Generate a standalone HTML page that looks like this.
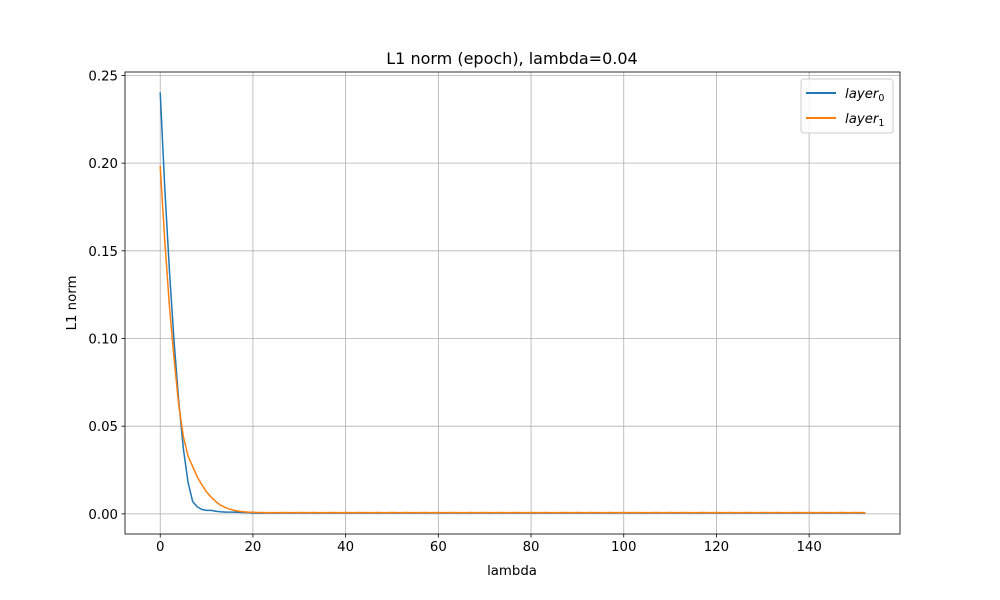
<!DOCTYPE html>
<html><head><meta charset="utf-8"><style>
body{margin:0;background:#fff}
svg{display:block;font-family:"DejaVu Sans","Liberation Sans",sans-serif}
</style></head><body>
<svg id="chart" width="1000" height="600" xmlns="http://www.w3.org/2000/svg">
<rect width="1000" height="600" fill="#fff"/>
<g id="grid"></g>
<g id="lines"></g>
<g id="axes"></g>
<text x="512" y="64" text-anchor="middle" font-size="16">L1 norm (epoch), lambda=0.04</text>
<text x="512" y="575" text-anchor="middle" font-size="13.3">lambda</text>
<text transform="translate(76,303) rotate(-90)" text-anchor="middle" font-size="13.3">L1 norm</text>
<g>
<rect x="801" y="79" width="92" height="54" rx="3" fill="#fff" fill-opacity="0.8" stroke="#ccc"/>
<g>
<line x1="806" y1="93" x2="836" y2="93" stroke="#1f77b4" stroke-width="2"/>
<text x="845" y="98" font-size="13.3" font-style="italic">layer<tspan font-size="9.5" dy="3" font-style="normal">0</tspan></text>
</g>
<g>
<line x1="806" y1="118" x2="836" y2="118" stroke="#ff7f0e" stroke-width="2"/>
<text x="845" y="123" font-size="13.3" font-style="italic">layer<tspan font-size="9.5" dy="3" font-style="normal">1</tspan></text>
</g>
</g>
</svg>
<script>
const xTicks=[0,20,40,60,80,100,120,140];
const yTicks=[0,0.05,0.10,0.15,0.20,0.25];
const layer0=[0.240,0.185,0.138,0.098,0.064,0.037,0.018,0.007,0.004,0.0025,
0.002,0.002,0.0015,0.0012,0.001,0.001,0.001,0.0009,0.0008,0.0008,
0.0006,0.0006,0.0005,0.0006,0.0006,0.0005,0.0006,0.0006,0.0005,0.0006,
0.0006,0.0005,0.0006,0.0006,0.0005,0.0006,0.0006,0.0005,0.0006,0.0006,
0.0006,0.0005,0.0006,0.0006,0.0005,0.0006,0.0006,0.0005,0.0006,0.0006,
0.0006,0.0005,0.0006,0.0006,0.0005,0.0006,0.0006,0.0005,0.0006,0.0006,
0.0006,0.0005,0.0006,0.0006,0.0005,0.0006,0.0006,0.0005,0.0006,0.0006,
0.0006,0.0005,0.0006,0.0006,0.0005,0.0006,0.0006,0.0005,0.0006,0.0006,
0.0006,0.0005,0.0006,0.0006,0.0005,0.0006,0.0006,0.0005,0.0006,0.0006,
0.0006,0.0005,0.0006,0.0006,0.0005,0.0006,0.0006,0.0005,0.0006,0.0006,
0.0006,0.0005,0.0006,0.0006,0.0005,0.0006,0.0006,0.0005,0.0006,0.0006,
0.0006,0.0005,0.0006,0.0006,0.0005,0.0006,0.0006,0.0005,0.0006,0.0006,
0.0006,0.0005,0.0006,0.0006,0.0005,0.0006,0.0006,0.0005,0.0006,0.0006,
0.0006,0.0005,0.0006,0.0006,0.0005,0.0006,0.0006,0.0005,0.0006,0.0006,
0.0006,0.0005,0.0006,0.0006,0.0005,0.0006,0.0006,0.0005,0.0006,0.0006,
0.0006,0.0005,0.0006];
const layer1=[0.198,0.155,0.118,0.088,0.062,0.044,0.033,0.027,0.021,0.0165,
0.0125,0.0095,0.007,0.005,0.0037,0.0027,0.002,0.0015,0.0012,0.001,
0.0009,0.0008,0.0008,0.0007,0.0007,
0.0007,0.0007,0.0008,0.0007,0.0007,0.0008,0.0007,0.0007,0.0008,0.0007,
0.0007,0.0007,0.0008,0.0007,0.0007,0.0008,0.0007,0.0007,0.0008,0.0007,
0.0007,0.0007,0.0008,0.0007,0.0007,0.0008,0.0007,0.0007,0.0008,0.0007,
0.0007,0.0007,0.0008,0.0007,0.0007,0.0008,0.0007,0.0007,0.0008,0.0007,
0.0007,0.0007,0.0008,0.0007,0.0007,0.0008,0.0007,0.0007,0.0008,0.0007,
0.0007,0.0007,0.0008,0.0007,0.0007,0.0008,0.0007,0.0007,0.0008,0.0007,
0.0007,0.0007,0.0008,0.0007,0.0007,0.0008,0.0007,0.0007,0.0008,0.0007,
0.0007,0.0007,0.0008,0.0007,0.0007,0.0008,0.0007,0.0007,0.0008,0.0007,
0.0007,0.0007,0.0008,0.0007,0.0007,0.0008,0.0007,0.0007,0.0008,0.0007,
0.0007,0.0007,0.0008,0.0007,0.0007,0.0008,0.0007,0.0007,0.0008,0.0007,
0.0007,0.0007,0.0008,0.0007,0.0007,0.0008,0.0007,0.0007,0.0008,0.0007,
0.0007,0.0007,0.0008,0.0007,0.0007,0.0008,0.0007,0.0007,0.0008,0.0007,
0.0007,0.0007,0.0008,0.0007,0.0007,0.0008,0.0007,0.0007];
const L=125,R=900,T=72,B=534;
const NS='http://www.w3.org/2000/svg';
const n=Math.max(layer0.length,layer1.length)-1;
const xmin=-0.05*n,xmax=n*1.05;
const allv=layer0.concat(layer1);
const vmax=Math.max(...allv),vmin=Math.min(...allv);
const pad=(vmax-vmin)*0.05;
const ymin=vmin-pad,ymax=vmax+pad;
const sx=v=>L+(v-xmin)/(xmax-xmin)*(R-L);
const sy=v=>B-(v-ymin)/(ymax-ymin)*(B-T);
function mk(tag,attrs,parent){const e=document.createElementNS(NS,tag);for(const k in attrs)e.setAttribute(k,attrs[k]);parent.appendChild(e);return e;}
const grid=document.getElementById('grid'),axes=document.getElementById('axes'),lines=document.getElementById('lines');
xTicks.forEach(t=>{const x=sx(t);
 const g=mk('line',{x1:x,x2:x,y1:T,y2:B,stroke:'#b0b0b0','stroke-width':0.8},grid);
 
 
 mk('line',{x1:x,x2:x,y1:B,y2:B+3.5,stroke:'#000','stroke-width':0.8},axes);
 const tx=mk('text',{x:x,y:B+17,'text-anchor':'middle','font-size':13.3},axes);tx.textContent=t;
 
 
});
yTicks.forEach(t=>{const y=sy(t);
 const g=mk('line',{x1:L,x2:R,y1:y,y2:y,stroke:'#b0b0b0','stroke-width':0.8},grid);
 
 
 mk('line',{x1:L-3.5,x2:L,y1:y,y2:y,stroke:'#000','stroke-width':0.8},axes);
 const tx=mk('text',{x:L-7,y:y+5,'text-anchor':'end','font-size':13.3},axes);tx.textContent=t.toFixed(2);
 
 
});
const frame=mk('rect',{x:L,y:T,width:R-L,height:B-T,fill:'none',stroke:'#000','stroke-width':0.8},axes);


function line(arr,color,name){
 const d=arr.map((v,i)=>(i?'L':'M')+sx(i).toFixed(2)+' '+sy(v).toFixed(2)).join(' ');
 const p=mk('path',{d:d,fill:'none',stroke:color,'stroke-width':1.5,'stroke-linejoin':'round','stroke-linecap':'square'},lines);
 
 
}
line(layer0,'#1f77b4','series-layer0');
line(layer1,'#ff7f0e','series-layer1');
</script>
</body></html>
